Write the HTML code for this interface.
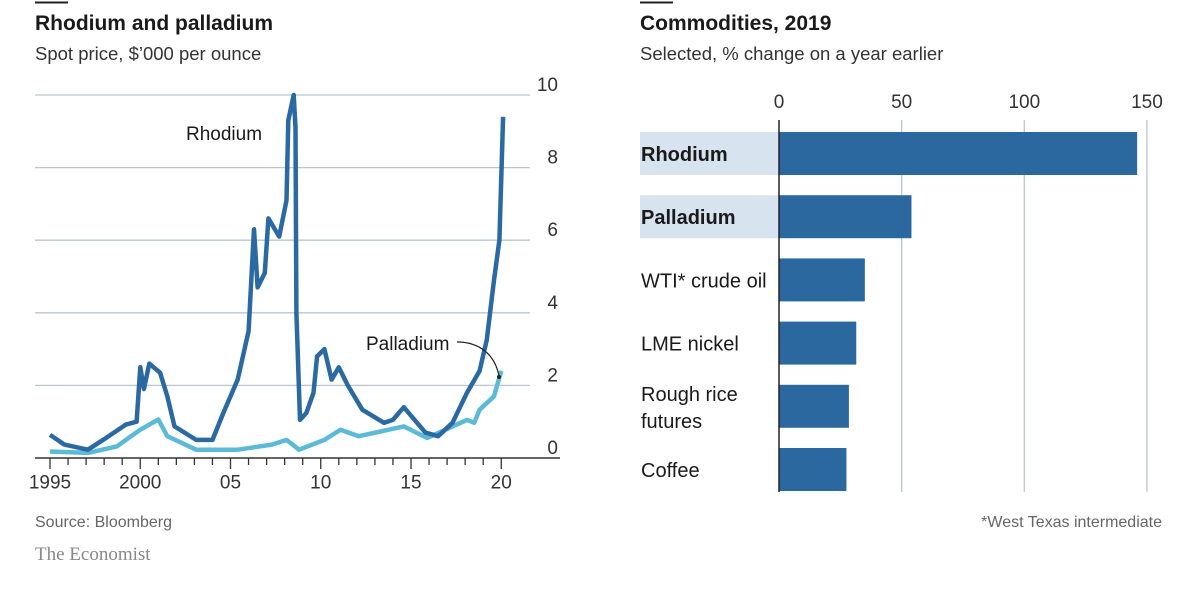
<!DOCTYPE html>
<html><head><meta charset="utf-8"><style>
body{margin:0;background:#fff;width:1200px;height:600px;overflow:hidden;font-family:"Liberation Sans",sans-serif;}
svg text{font-family:"Liberation Sans",sans-serif;}
</style></head><body>
<svg id="chart" width="1200" height="600" viewBox="0 0 1200 600">
<g id="left">
<line x1="35" y1="2.5" x2="68" y2="2.5" stroke="#222" stroke-width="2"/>
<text x="35" y="30" font-size="21" font-weight="bold" fill="#1a1a1a">Rhodium and palladium</text>
<text x="35" y="60" font-size="18.5" fill="#333">Spot price, $’000 per ounce</text>
<g id="lgrid"></g><g id="lticks"></g><g id="llines"></g>
<text x="186" y="140" font-size="19" fill="#1a1a1a">Rhodium</text>
<text x="366" y="350" font-size="19" fill="#1a1a1a">Palladium</text>
<path d="M457,342 C480,342 495,355 499,376" fill="none" stroke="#222" stroke-width="1.2"/>
<circle cx="499" cy="377" r="2" fill="#222"/>
<text x="35" y="527" font-size="16" fill="#666">Source: Bloomberg</text>
<text x="35" y="560" font-size="19" fill="#888" font-family="Liberation Serif" style="font-family:'Liberation Serif',serif">The Economist</text>
</g>
<g id="right">
<line x1="640" y1="2.5" x2="673" y2="2.5" stroke="#222" stroke-width="2"/>
<text x="640" y="30" font-size="21" font-weight="bold" fill="#1a1a1a">Commodities, 2019</text>
<text x="640" y="60" font-size="18.5" fill="#333">Selected, % change on a year earlier</text>
<g id="rgrid"></g><g id="rbars"></g>
<text x="1162" y="527" font-size="16" fill="#666" text-anchor="end">*West Texas intermediate</text>
</g>
</svg>
<script>
const NS="http://www.w3.org/2000/svg";
// Left chart data
const rhYears=[1995,1995.8,1997.1,1998.1,1999.2,1999.8,2000.0,2000.2,2000.5,2001.1,2001.5,2001.9,2003.1,2004.0,2004.6,2005.4,2006.0,2006.3,2006.5,2006.9,2007.1,2007.7,2008.1,2008.2,2008.5,2008.6,2008.65,2008.85,2009.2,2009.6,2009.8,2010.2,2010.6,2011.0,2011.5,2012.3,2013.5,2014.0,2014.6,2015.2,2015.8,2016.5,2017.3,2018.1,2018.8,2019.2,2019.6,2019.9,2020.1];
const rhValues=[0.64,0.37,0.23,0.55,0.92,1.0,2.5,1.9,2.6,2.35,1.7,0.87,0.5,0.5,1.24,2.16,3.5,6.3,4.7,5.1,6.6,6.1,7.1,9.3,10.0,9.1,4.0,1.05,1.24,1.8,2.8,3.0,2.16,2.5,2.0,1.33,0.97,1.05,1.4,1.05,0.7,0.6,0.97,1.8,2.4,3.26,4.9,6.0,9.4];
const pdYears=[1995,1997.1,1998.7,2000.0,2001.0,2001.5,2003.1,2005.4,2007.3,2008.1,2008.8,2010.2,2011.1,2012.1,2014.6,2015.9,2017.3,2018.1,2018.5,2018.8,2019.6,2020.0];
const pdValues=[0.18,0.14,0.32,0.78,1.06,0.6,0.23,0.23,0.37,0.5,0.23,0.5,0.78,0.6,0.87,0.55,0.87,1.05,0.97,1.33,1.7,2.4];
const yTicks=[0,2,4,6,8,10];
const xTickYears=[1995,2000,2005,2010,2015,2020];
const xTickLabels=["1995","2000","05","10","15","20"];
// Right chart data
const commodities=["Rhodium","Palladium","WTI* crude oil","LME nickel","Rough rice|futures","Coffee"];
const changes=[146,54,35,31.5,28.5,27.5];
const highlighted=[true,true,false,false,false,false];
const pctTicks=[0,50,100,150];

const xL=y=>50+(y-1995)*18.05;
const yL=v=>458-v*36.3;
const xR=v=>779+v*2.453;

function mk(tag,attrs,parent){const e=document.createElementNS(NS,tag);for(const k in attrs)e.setAttribute(k,attrs[k]);parent.appendChild(e);return e;}
const lgrid=document.getElementById('lgrid'),lticks=document.getElementById('lticks'),llines=document.getElementById('llines');
yTicks.forEach(v=>{
  if(v>0){const g=mk('line',{x1:35,x2:530,y1:yL(v),y2:yL(v),stroke:'#b9c6d2','stroke-width':1.3},lgrid);
  
  }
  const t=mk('text',{x:558,y:yL(v)-4,'font-size':19,fill:'#333','text-anchor':'end'},lgrid);
  t.textContent=v;
  
  
});
const ax=mk('line',{x1:35,x2:560,y1:458,y2:458,stroke:'#333','stroke-width':1.5},lticks);


for(let y=1995;y<=2020;y++){
  const major=xTickYears.includes(y);
  const tk=mk('line',{x1:xL(y),x2:xL(y),y1:458,y2:major?469:465,stroke:'#333','stroke-width':1.3},lticks);
  
  
}
xTickYears.forEach((y,i)=>{
  const t=mk('text',{x:xL(y),y:474,'font-size':19,fill:'#333','text-anchor':'middle',dy:'0.75em'},lticks);
  t.textContent=xTickLabels[i];
  
  
});
function line(xs,vs,color,name){
  const p=mk('polyline',{points:xs.map((x,i)=>xL(x).toFixed(1)+','+yL(vs[i]).toFixed(1)).join(' '),fill:'none',stroke:color,'stroke-width':4.5,'stroke-linejoin':'round'},llines);
  
  
}
line(pdYears,pdValues,'#5cbad8','palladium-line');
line(rhYears,rhValues,'#2b69a3','rhodium-line');

const rgrid=document.getElementById('rgrid'),rbars=document.getElementById('rbars');
pctTicks.forEach(v=>{
  if(v>0){const g=mk('line',{x1:xR(v),x2:xR(v),y1:120,y2:492,stroke:'#b9c6d2','stroke-width':1.3},rgrid);
  
  }
  const t=mk('text',{x:xR(v),y:108,'font-size':19,fill:'#333','text-anchor':'middle'},rgrid);
  t.textContent=v;
  
  
});
commodities.forEach((c,i)=>{
  const top=132+i*63.2;
  if(highlighted[i]){const b=mk('rect',{x:640,y:top,width:139,height:43,fill:'#d7e4f0'},rbars);
  
  }
  const r=mk('rect',{x:779,y:top,width:xR(changes[i])-779,height:43,fill:'#2c68a0'},rbars);
  
  
  const parts=c.split('|');
  parts.forEach((p,j)=>{
    const t=mk('text',{x:641,y:top+29+(parts.length>1?(j*27-13):0),'font-size':20,fill:'#1a1a1a','font-weight':highlighted[i]?'bold':'normal'},rbars);
    t.textContent=p;
    
    
  });
});
const zl=mk('line',{x1:779,x2:779,y1:120,y2:492,stroke:'#222','stroke-width':1.5},rbars);


</script>
</body></html>
